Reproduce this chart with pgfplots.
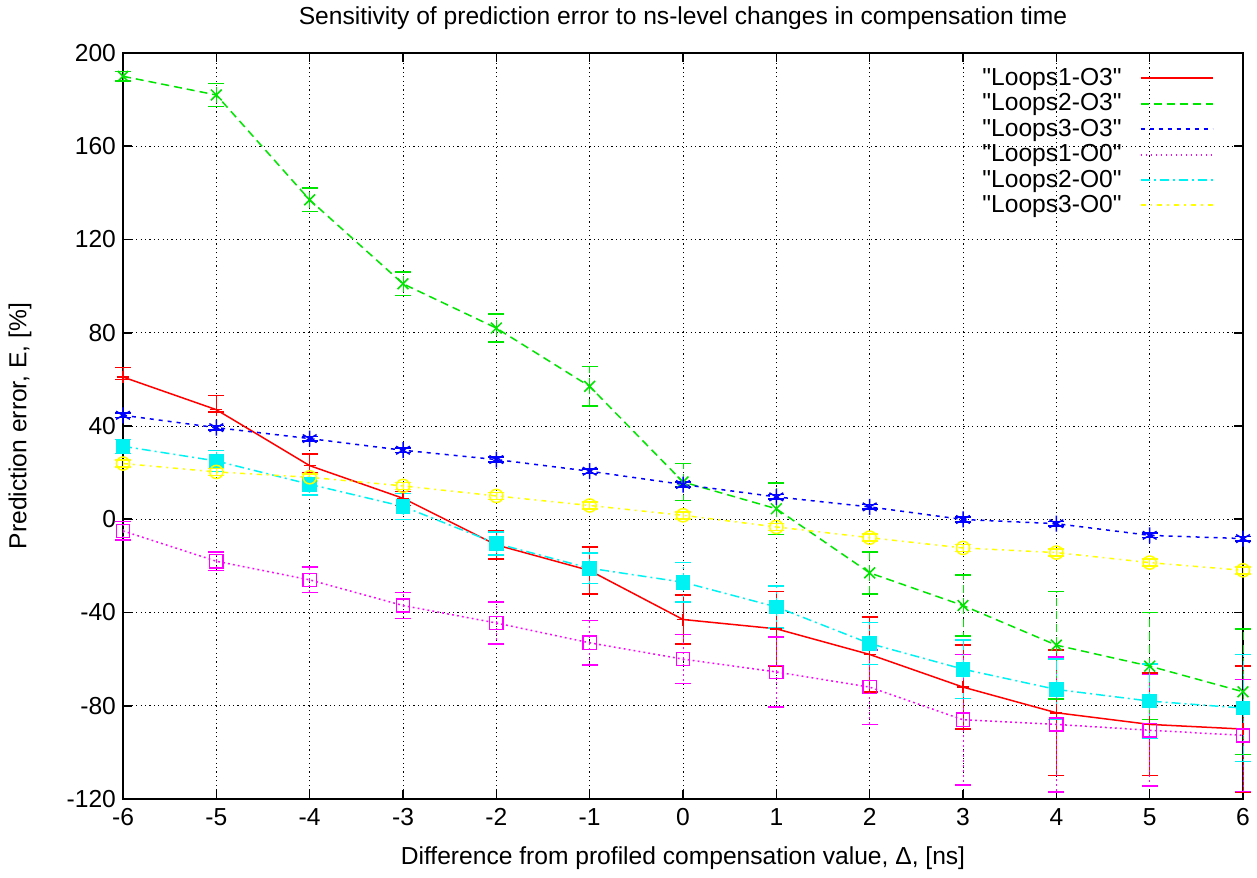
\documentclass[border=0pt]{standalone}
\usepackage{fontspec}
\setmainfont{Liberation Sans}[Ligatures=TeXOff]
\usepackage{pgfplots}
\usepackage{pgfplotstable}
\pgfplotsset{compat=1.18}
\definecolor{gpred}{rgb}{1,0,0}
\definecolor{gpgreen}{rgb}{0,0.9,0}
\definecolor{gpblue}{rgb}{0,0,1}
\definecolor{gpmagenta}{rgb}{1,0,1}
\definecolor{gpcyan}{rgb}{0,0.95,0.95}
\definecolor{gpyellow}{rgb}{1,1,0}

% x  y  ep  em
\pgfplotstableread{
x y ep em
-6 61 4 1
-5 47 6 1
-4 23 5 3
-3 9 3 3
-2 -11 6 6
-1 -22 10 10
0 -43 10.5 10.5
1 -47 16 16
2 -58 16 16
3 -72 18 18
4 -83 27 27
5 -88 22 22
6 -90 27 27
}\loopsOneOthree
\pgfplotstableread{
x y ep em
-6 190 2 2
-5 182 5 5
-4 137 5 5
-3 101 5 5
-2 82 6 6
-1 57 8.5 8.5
0 16 8 8
1 4.5 11 11
2 -23 9 9
3 -37 13 13
4 -54 23 23
5 -63 23 23
6 -74 27 27
}\loopsTwoOthree
\pgfplotstableread{
x y ep em
-6 44.6 1 1
-5 39.3 1 1
-4 34.6 1 1
-3 29.6 1 1
-2 25.6 1 1
-1 20.6 1 1
0 14.9 1 1
1 9.6 1 1
2 5.3 1 1
3 -0.1 1 1
4 -1.9 1 1
5 -6.9 1 1
6 -8.3 1 1
}\loopsThreeOthree
\pgfplotstableread{
x y ep em
-6 -5 4 4
-5 -18 4 4
-4 -26 5.5 5.5
-3 -37 5.5 5.5
-2 -44.5 9 9
-1 -53 9.5 9.5
0 -60 10.5 10.5
1 -65.5 15 15
2 -72 16 16
3 -86 28 28
4 -88 29 29
5 -90.5 24 24
6 -92.7 24 24
}\loopsOneOzero
\pgfplotstableread{
x y ep em
-6 31.3 3 3
-5 25 4.5 4.5
-4 15 4.5 4.5
-3 5.5 5.5 5.5
-2 -10.4 5 5
-1 -21 6.5 6.5
0 -27 8.5 8.5
1 -37.6 9 9
2 -53.3 9 9
3 -64.3 12.5 12.5
4 -73 13 13
5 -78 16 16
6 -81 23 23
}\loopsTwoOzero
\pgfplotstableread{
x y ep em
-6 23.9 1.5 1.5
-5 20.3 1.5 1.5
-4 18 1.5 1.5
-3 14.3 1.5 1.5
-2 10 1.5 1.5
-1 5.9 1.5 1.5
0 1.7 1.5 1.5
1 -3.3 1.5 1.5
2 -7.9 1.5 1.5
3 -12.3 1.5 1.5
4 -14.3 1.5 1.5
5 -18.6 1.5 1.5
6 -21.9 1.5 1.5
}\loopsThreeOzero

\begin{document}
\begin{tikzpicture}
\begin{axis}[
    scale only axis,
    width=560pt,
    height=373pt,
    xmin=-6, xmax=6,
    ymin=-120, ymax=200,
    xtick={-6,...,6},
    ytick={-120,-80,...,200},
    font=\fontsize{12.3}{14}\selectfont,
    /pgf/number format/assume math mode=true,
    xticklabel style={yshift=-1pt},
    tick align=inside,
    major tick length=4.5pt,
    axis line style={line width=1pt},
    every tick/.style={black, line width=0.8pt},
    grid=major,
    major grid style={black, line width=0.5pt, dash pattern=on 0.6pt off 1.6pt},
    clip=false,
    title={Sensitivity of prediction error to ns-level changes in compensation time},
    title style={at={(axis description cs:0.5,1.031)}, anchor=center, yshift=0pt, inner sep=0pt},
    xlabel={Difference from profiled compensation value, Δ, [ns]},
    xlabel style={at={(axis description cs:0.5,-0.0791)}, anchor=center, inner sep=0pt},
    ylabel={Prediction error, E, [\%]},
    ylabel style={at={(axis description cs:-0.092,0.5)}, anchor=center, inner sep=0pt},
    legend style={at={(rel axis cs:1,1)}, anchor=north east, xshift=-14.5pt, yshift=-5.5pt,
        draw=none, fill=none, inner sep=0pt, row sep=-1.4pt, column sep=7pt,
        cells={anchor=east}, font=\fontsize{12.3}{14}\selectfont},
    legend plot pos=right,
    legend image code/.code={\draw[#1, line width=1pt] (0pt,0pt) -- (36pt,0pt);},
    every axis plot/.append style={line width=0.75pt},
    error bars/y dir=both,
    error bars/y explicit,
    error bars/error mark options={rotate=90, mark size=4pt, line width=0.75pt},
]
\addplot[color=gpred, solid, mark=+, mark size=3pt, mark options={solid}]
    table[x=x, y=y, y error plus=ep, y error minus=em] {\loopsOneOthree};
\addplot[color=gpgreen, dash pattern=on 4pt off 2.5pt, mark=x, mark size=3.8pt, mark options={solid}]
    table[x=x, y=y, y error plus=ep, y error minus=em] {\loopsTwoOthree};
\addplot[color=gpblue, dash pattern=on 2pt off 2.5pt, mark=asterisk, mark size=4pt, mark options={solid}]
    table[x=x, y=y, y error plus=ep, y error minus=em] {\loopsThreeOthree};
\addplot[color=gpmagenta, dash pattern=on 0.9pt off 1.6pt, mark=square, mark size=3.3pt, mark options={solid}]
    table[x=x, y=y, y error plus=ep, y error minus=em] {\loopsOneOzero};
\addplot[color=gpcyan, dash pattern=on 4.5pt off 2pt on 1pt off 2pt, mark=square*, mark size=3.3pt, mark options={solid}]
    table[x=x, y=y, y error plus=ep, y error minus=em] {\loopsTwoOzero};
\addplot[color=gpyellow, dash pattern=on 2.5pt off 2.5pt on 0.9pt off 2.5pt, mark=o, mark size=3.3pt, mark options={solid}]
    table[x=x, y=y, y error plus=ep, y error minus=em] {\loopsThreeOzero};
\legend{"Loops1-O3", "Loops2-O3", "Loops3-O3", "Loops1-O0", "Loops2-O0", "Loops3-O0"}
\coordinate (ll) at (rel axis cs:0,0);
\coordinate (ur) at (rel axis cs:1,1);
\end{axis}
\pgfresetboundingbox
\path ([shift={(-61.5pt,-39pt)}]ll) rectangle ([shift={(7pt,26.5pt)}]ur);
\end{tikzpicture}
\end{document}
